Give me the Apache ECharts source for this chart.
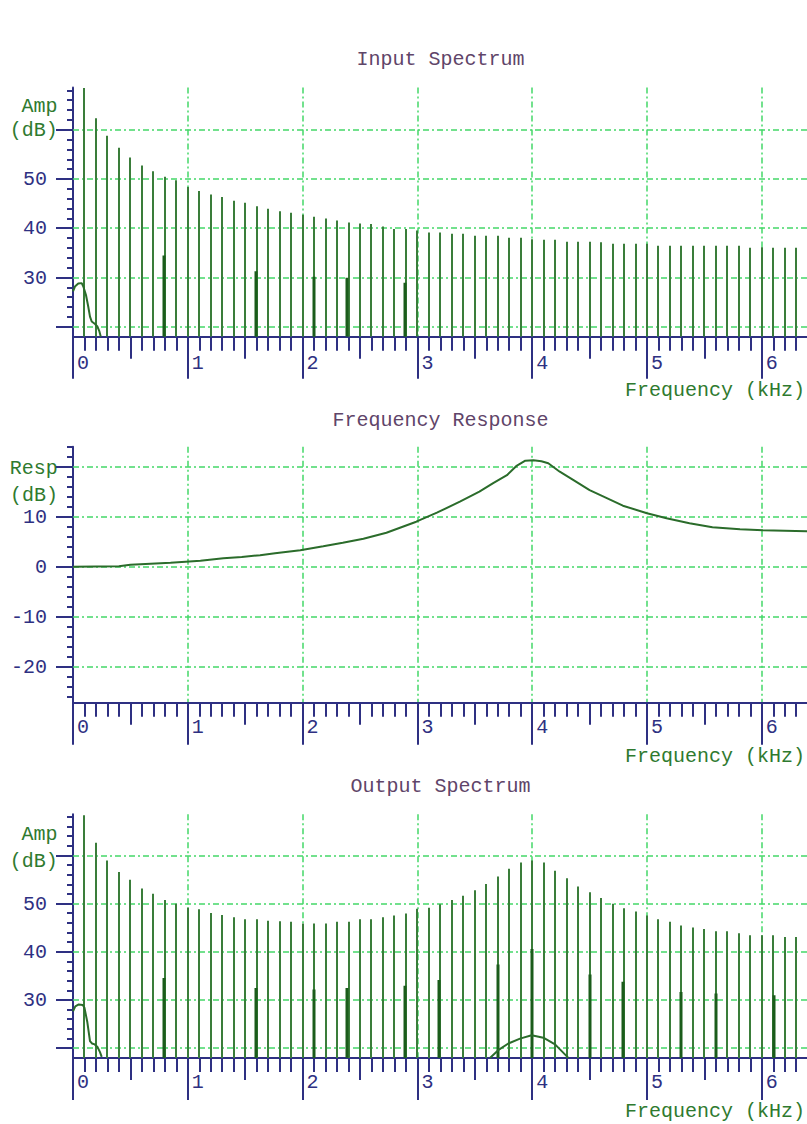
<!DOCTYPE html>
<html>
<head>
<meta charset="utf-8">
<script src="https://cdn.jsdelivr.net/npm/echarts@6/dist/echarts.min.js"></script>
<style>
html,body{margin:0;padding:0;background:#fff;width:807px;height:1124px;overflow:hidden}
#c{width:900px;height:1124px}
</style>
</head>
<body>
<div id="c"></div>
<script>
// ---------------- data ----------------
const harmonicFreqs = [0.1,0.2,0.3,0.4,0.5,0.6,0.7,0.8,0.9,1.0,
  1.1,1.2,1.3,1.4,1.5,1.6,1.7,1.8,1.9,2.0,
  2.1,2.2,2.3,2.4,2.5,2.6,2.7,2.8,2.9,3.0,
  3.1,3.2,3.3,3.4,3.5,3.6,3.7,3.8,3.9,4.0,
  4.1,4.2,4.3,4.4,4.5,4.6,4.7,4.8,4.9,5.0,
  5.1,5.2,5.3,5.4,5.5,5.6,5.7,5.8,5.9,6.0,
  6.1,6.2,6.3];
const inputAmp = [68.5,62.4,58.8,56.4,54.4,52.8,51.6,50.5,49.8,48.4,
  47.6,46.9,46.4,45.6,45.2,44.5,44.0,43.5,43.2,42.8,
  42.4,42.0,41.6,41.2,41.0,40.9,40.4,39.9,39.9,39.6,
  39.2,39.2,38.9,38.9,38.5,38.5,38.5,38.1,38.1,37.8,
  37.7,37.7,37.3,37.3,37.3,37.2,36.9,36.9,36.9,36.9,
  36.5,36.5,36.5,36.5,36.5,36.5,36.5,36.5,36.1,36.2,
  36.1,36.1,36.1];
const outputAmp = [68.4,62.7,59.0,56.6,55.0,53.2,52.1,50.8,50.0,49.2,
  48.9,48.1,47.7,47.2,46.8,46.8,46.5,46.4,46.3,45.9,
  45.9,45.9,46.3,46.3,46.8,46.8,47.2,47.6,48.0,49.0,
  49.2,49.9,50.8,51.7,52.8,54.1,55.7,57.3,58.6,59.0,
  58.6,56.9,55.3,53.6,52.4,51.2,50.0,49.1,48.4,47.6,
  46.8,46.3,45.5,45.1,44.8,44.3,44.3,43.9,43.5,43.5,
  43.5,43.1,43.1];
const inputSpurFreqs = [0.79,1.59,2.1,2.39,2.89];
const inputSpurAmp = [34.5,31.3,30.2,30.0,29.0];
const outputSpurFreqs = [0.79,1.59,2.1,2.39,2.89,3.19,3.7,4.0,4.5,4.79,5.3,5.6,6.11];
const outputSpurAmp = [34.6,32.5,32.2,32.5,33.0,34.2,37.4,40.6,35.3,33.8,31.7,31.4,31.0];
const inputLowFreqs = [0,0.017,0.046,0.076,0.09,0.113,0.133,0.148,0.163,0.192,0.212,0.23,0.242];
const inputLowAmp = [27.2,28.2,28.8,28.9,28.2,26.5,24.1,22.1,21.1,20.6,20.1,19.1,18.0];
const outputLowFreqs = [0,0.02,0.05,0.085,0.1,0.125,0.148,0.165,0.19,0.215,0.235,0.25];
const outputLowAmp = [27.7,28.7,29.1,29.0,28.4,25.4,21.5,21.0,20.8,20.2,19.2,18.2];
const outputBumpFreqs = [3.632,3.704,3.792,3.894,3.995,4.097,4.199,4.315];
const outputBumpAmp = [18.0,19.6,21.0,22.0,22.7,22.2,20.8,18.0];
const respFreqs = [0,0.4,0.5,0.85,1.11,1.31,1.47,1.63,1.76,1.98,2.18,2.35,2.53,2.73,2.99,3.17,3.37,3.54,3.66,3.78,3.86,3.94,4.01,4.08,4.14,4.24,4.36,4.5,4.65,4.79,5.0,5.17,5.37,5.57,5.81,6.01,6.39,6.6];
const respDb = [0,0.1,0.4,0.8,1.2,1.7,1.95,2.3,2.7,3.3,4.1,4.8,5.6,6.8,9.0,10.8,13.0,15.0,16.7,18.3,20.1,21.2,21.3,21.1,20.7,19.0,17.3,15.3,13.7,12.2,10.7,9.7,8.7,7.9,7.5,7.3,7.1,7.0];
const xTickLabels = ['0','1','2','3','4','5','6'];
const ampMajorTicks = [20,30,40,50,60];
const ampTickLabels = ['','30','40','50',''];
const respMajorTicks = [-20,-10,0,10,20];
const respTickLabels = ['-20','-10','0','10',''];

// ---------------- style ----------------
const FONT = '"Liberation Mono", "Courier New", monospace';
const FS = 20;
const FONTSTR = FS + 'px ' + FONT;
const NAVY = '#2e3082';
const GREEN_TXT = '#2f7a2f';
const GRIDC = '#44d868';
const STEM = '#3a7d3a';
const DARK = '#1b5c1b';
const CURVE = '#2b6c2b';
const TITLEC = '#5f4569';
const X_MAX = 7;

const panels = [
  {top:87.6, height:249.2, ymin:18, ymax:68.6, major:ampMajorTicks, labels:ampTickLabels, xLabelGap:27,
   title:'Input Spectrum', titleY:59, freqY:390, names:[['Amp',39.5,106.7],['(dB)',33.8,130]]},
  {top:446.7, height:256, ymin:-27.2, ymax:24, major:respMajorTicks, labels:respTickLabels, xLabelGap:25,
   title:'Frequency Response', titleY:420, freqY:756, names:[['Resp',33.7,468.3],['(dB)',33.9,495.7]]},
  {top:814.3, height:243.6, ymin:18, ymax:68.6, major:ampMajorTicks, labels:ampTickLabels, xLabelGap:25,
   title:'Output Spectrum', titleY:786, freqY:1111, names:[['Amp',39.5,834.3],['(dB)',33.8,861.7]]}
];

function txt(s, x, y, color, align) {
  return {type:'text', x:x, y:y, silent:true,
    style:{text:s, fill:color, font:FONTSTR, align:align, verticalAlign:'middle',
           textAlign:align, textVerticalAlign:'middle'}};
}

const grid = [], xAxis = [], yAxis = [], series = [], graphic = [];

panels.forEach((p, pi) => {
  grid.push({left:73, top:p.top, width:X_MAX*114.8, height:p.height, containLabel:false, outerBoundsMode:'none'});
  xAxis.push({
    gridIndex:pi, type:'value', min:0, max:X_MAX, interval:1, position:'bottom',
    axisLine:{show:true, onZero:false, lineStyle:{color:NAVY, width:2}},
    axisTick:{show:true, inside:false, length:42, lineStyle:{color:NAVY, width:2}},
    minorTick:{show:true, splitNumber:10, length:14, lineStyle:{color:NAVY, width:2}},
    axisLabel:{show:true, margin:p.xLabelGap, color:NAVY, fontFamily:FONT, fontSize:FS,
      align:'left', verticalAlign:'middle', padding:[0,0,0,4],
      formatter:function(v){ const r = Math.round(v); return (Math.abs(v - r) < 1e-9 && xTickLabels[r] !== undefined) ? xTickLabels[r] : ''; }},
    splitLine:{show:true, showMinLine:false, showMaxLine:false, lineStyle:{color:GRIDC, width:1.5, type:[6,3,2,3]}},
    minorSplitLine:{show:false}
  });
  xAxis.push({
    gridIndex:pi, type:'value', min:0, max:X_MAX, interval:0.5, position:'bottom',
    axisLine:{show:false, onZero:false},
    axisTick:{show:true, inside:false, length:22, lineStyle:{color:NAVY, width:2}},
    axisLabel:{show:false}, splitLine:{show:false}
  });
  yAxis.push({
    gridIndex:pi, type:'value', min:p.ymin, max:p.ymax,
    axisLine:{show:true, onZero:false, lineStyle:{color:NAVY, width:2}},
    axisTick:{show:false}, axisLabel:{show:false}, splitLine:{show:false}
  });

  // y-axis ticks, labels and horizontal grid lines, placed through the y scale
  const ticks = [];
  let v = Math.ceil(p.ymin / 2) * 2; if (v <= p.ymin) v += 2;
  for (; v <= p.ymax; v += 2) ticks.push(v);
  series.push({
    type:'custom', xAxisIndex:pi*2, yAxisIndex:pi, clip:false, silent:true, z:1,
    data:ticks.map(t => [0, t]), encode:{x:0, y:1},
    renderItem:function(params, api){
      const t = api.value(1);
      const a = api.coord([0, t]);
      const b = api.coord([X_MAX, t]);
      const mi = p.major.indexOf(t);
      const x0 = Math.round(a[0]), y0 = Math.round(a[1]);
      const ch = [];
      if (mi >= 0) {
        ch.push({type:'line', shape:{x1:x0, y1:y0, x2:b[0], y2:y0},
          style:{stroke:GRIDC, lineWidth:1.5, lineDash:[6,3,2,3], fill:null}});
        if (p.labels[mi]) ch.push(txt(p.labels[mi], 47, y0, NAVY, 'right'));
      }
      ch.push({type:'line', shape:{x1:x0 - (mi >= 0 ? 17 : 6), y1:y0, x2:x0, y2:y0},
        style:{stroke:NAVY, lineWidth:2, fill:null}});
      return {type:'group', children:ch};
    }
  });

  graphic.push(txt(p.title, 440.5, p.titleY, TITLEC, 'center'));
  graphic.push(txt('Frequency (kHz)', 805, p.freqY, GREEN_TXT, 'right'));
  p.names.forEach(n => graphic.push(txt(n[0], n[1], n[2], GREEN_TXT, 'center')));
});

function stems(pi, freqs, amps, color, width, ymin, z) {
  return {
    type:'custom', xAxisIndex:pi*2, yAxisIndex:pi, clip:true, silent:true, z:z,
    data:freqs.map((f, i) => [f, amps[i]]), encode:{x:0, y:1},
    renderItem:function(params, api){
      const top = api.coord([api.value(0), api.value(1)]);
      const base = api.coord([api.value(0), ymin]);
      const x = Math.round(top[0]);
      return {type:'line', shape:{x1:x, y1:base[1], x2:x, y2:top[1]},
        style:{stroke:color, lineWidth:width, fill:null}};
    }
  };
}
function curve(pi, freqs, vals, z) {
  return {
    type:'line', xAxisIndex:pi*2, yAxisIndex:pi, silent:true, z:z, clip:true,
    showSymbol:false, symbol:'none',
    lineStyle:{color:CURVE, width:2}, itemStyle:{color:CURVE},
    data:freqs.map((f, i) => [f, vals[i]])
  };
}

series.push(stems(0, harmonicFreqs, inputAmp, STEM, 2, 18, 3));
series.push(stems(0, inputSpurFreqs, inputSpurAmp, DARK, 3, 18, 4));
series.push(curve(0, inputLowFreqs, inputLowAmp, 5));
series.push(curve(1, respFreqs, respDb, 5));
series.push(stems(2, harmonicFreqs, outputAmp, STEM, 2, 18, 3));
series.push(stems(2, outputSpurFreqs, outputSpurAmp, DARK, 3, 18, 4));
series.push(curve(2, outputLowFreqs, outputLowAmp, 5));
series.push(curve(2, outputBumpFreqs, outputBumpAmp, 5));

const chart = echarts.init(document.getElementById('c'), null, {renderer:'svg'});
chart.setOption({
  animation:false,
  backgroundColor:'#ffffff',
  grid:grid, xAxis:xAxis, yAxis:yAxis, series:series, graphic:graphic
});
</script>
</body>
</html>
